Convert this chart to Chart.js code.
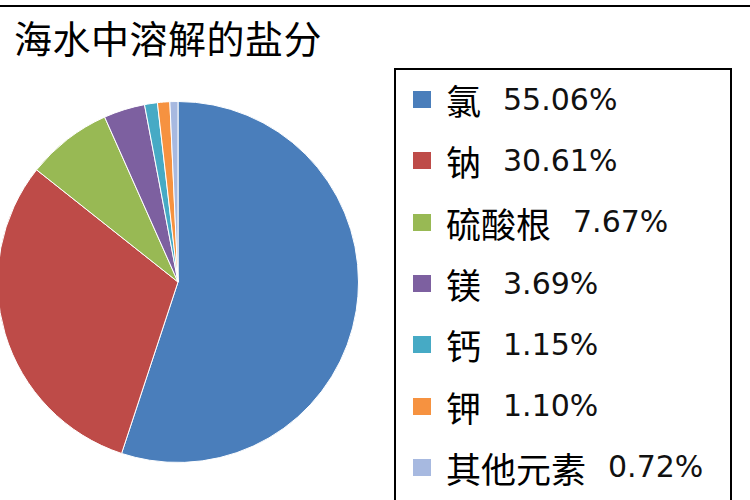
<!DOCTYPE html>
<html>
<head>
<meta charset="utf-8">
<script src="https://cdn.jsdelivr.net/npm/chart.js@4.4.0/dist/chart.umd.min.js"></script>
<style>
  html, body { margin: 0; padding: 0; background: #fff; width: 750px; height: 500px; overflow: hidden; }
  body { position: relative; }
  #topline { position: absolute; left: 0; top: 5px; width: 750px; height: 2px; background: #000; }
  #title { position: absolute; left: 14px; top: 18px; font-family: "Noto Sans CJK SC"; font-size: 38px; letter-spacing: 0.5px; line-height: 1; color: #000; white-space: nowrap; }
  #pieBox { position: absolute; left: -3px; top: 101px; width: 362px; height: 362px; }
  #legendBox { position: absolute; left: 394px; top: 68px; width: 334px; height: 460px; border: 2px solid #000; }
  #legend { position: absolute; left: 413px; top: 69px; }
  .row { height: 61.3px; display: flex; align-items: center; white-space: nowrap; }
  .mark { width: 18px; height: 17px; margin-right: 15px; }
  .lab { font-family: "Noto Sans CJK SC"; font-size: 35px; line-height: 1; color: #000; }
  .val { font-family: "DejaVu Sans"; font-size: 30px; line-height: 1; color: #111; margin-left: 22px; }
</style>
</head>
<body>
<div id="topline"></div>
<div id="title">海水中溶解的盐分</div>
<div id="pieBox"><canvas id="pie" width="362" height="362"></canvas></div>
<div id="legendBox"></div>
<div id="legend"></div>
<script>
// 海水中溶解的盐分 (percent of total)
const categories = ["氯", "钠", "硫酸根", "镁", "钙", "钾", "其他元素"];
const shares = [55.06, 30.61, 7.67, 3.69, 1.15, 1.10, 0.72];
const sliceColors = ["#4A7EBB", "#BE4B48", "#98B954", "#7D60A0", "#46AAC5", "#F69240", "#A7B9E0"];

const ctx = document.getElementById("pie").getContext("2d");
const pieChart = new Chart(ctx, {
    type: "pie",
    data: {
        labels: categories,
        datasets: [{
            data: shares,
            backgroundColor: sliceColors,
            borderColor: "#ffffff",
            borderWidth: 1,
            hoverOffset: 0
        }]
    },
    options: {
        responsive: false,
        animation: false,
        events: [],
        layout: { padding: 0 },
        plugins: {
            legend: { display: false },
            tooltip: { enabled: false },
            title: { display: false }
        }
    }
});

// legend built from the chart's own labels
const legend = document.getElementById("legend");
const items = pieChart.options.plugins.legend.labels.generateLabels(pieChart);
items.forEach(function (item, i) {
    const row = document.createElement("div");
    row.className = "row";
    const mark = document.createElement("span");
    mark.className = "mark";
    mark.style.background = item.fillStyle;
    const lab = document.createElement("span");
    lab.className = "lab";
    lab.textContent = item.text;
    const val = document.createElement("span");
    val.className = "val";
    val.textContent = shares[i].toFixed(2) + "%";
    row.appendChild(mark);
    row.appendChild(lab);
    row.appendChild(val);
    legend.appendChild(row);
});
</script>
</body>
</html>
